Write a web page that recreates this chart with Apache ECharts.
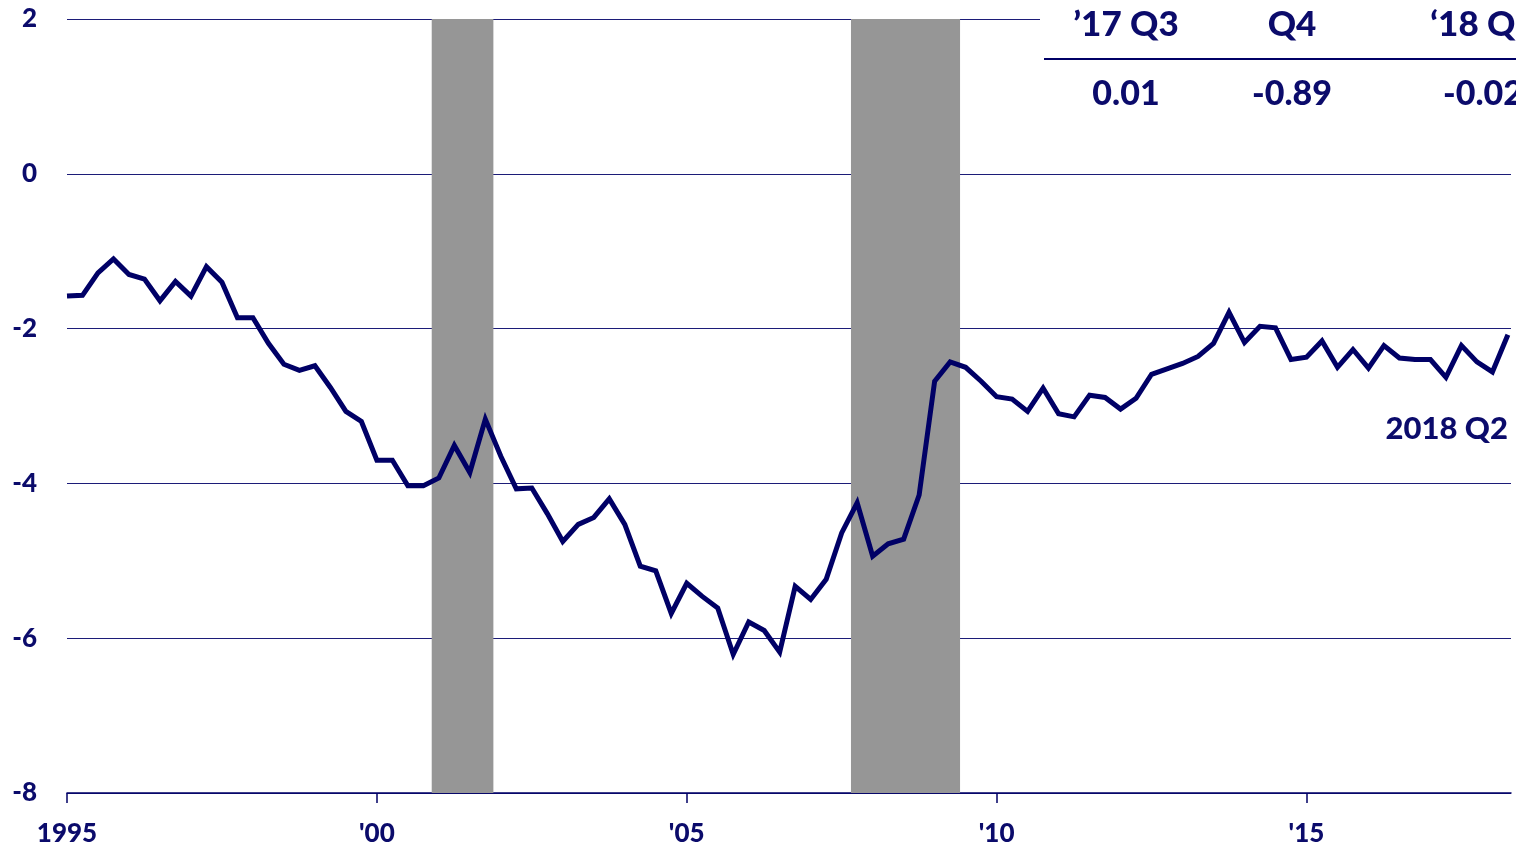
<!DOCTYPE html>
<html>
<head>
<meta charset="utf-8">
<script src="https://cdn.jsdelivr.net/npm/echarts@6/dist/echarts.min.js"></script>
<style>
html,body{margin:0;padding:0;background:#fff;}
#chart{width:1516px;height:851px;}
</style>
</head>
<body>
<div id="chart"></div>
<script>
// Quarterly values, 1995 Q1 .. 2018 Q2
const startYear = 1995;
const values = [
  -1.58, -1.57, -1.28, -1.10, -1.30, -1.36, -1.64, -1.39, -1.58, -1.20,
  -1.40, -1.86, -1.86, -2.19, -2.46, -2.54, -2.48, -2.76, -3.07, -3.20,
  -3.70, -3.70, -4.03, -4.03, -3.93, -3.51, -3.86, -3.17, -3.65, -4.07,
  -4.06, -4.39, -4.75, -4.53, -4.44, -4.20, -4.53, -5.07, -5.13, -5.68,
  -5.29, -5.46, -5.61, -6.21, -5.79, -5.90, -6.18, -5.33, -5.50, -5.24,
  -4.64, -4.25, -4.94, -4.78, -4.72, -4.15, -2.68, -2.43, -2.50, -2.68,
  -2.88, -2.91, -3.07, -2.77, -3.10, -3.14, -2.86, -2.89, -3.04, -2.90,
  -2.59, -2.52, -2.45, -2.36, -2.19, -1.79, -2.18, -1.97, -1.99, -2.40,
  -2.37, -2.16, -2.50, -2.27, -2.51, -2.22, -2.38, -2.40, -2.40, -2.63,
  -2.22, -2.43, -2.56, -2.08
];
// Recession periods (decimal years)
const recessions = [[2000.885, 2001.88], [2007.65, 2009.41]];
const yTicks = [-8, -6, -4, -2, 0, 2];
const xTickYears = [1995, 2000, 2005, 2010, 2015];
const tableHeaders = ['\u201917 Q3', 'Q4', '\u201818 Q1'];
const tableValues = ['0.01', '-0.89', '-0.02'];
const lastLabel = '2018 Q2';

const NAVY = '#000066';
const TEXT = '#0b0b6b';
const FONT = 'Lato, "Open Sans", sans-serif';
const W = '900';

const seriesData = values.map((v, i) => [startYear + i / 4, v]);

const chart = echarts.init(document.getElementById('chart'), null, {renderer: 'canvas'});

const colX = [1126, 1292, 1483];
const graphics = [
  {type: 'rect', z: 10, shape: {x: 1040, y: 0, width: 476, height: 118}, style: {fill: '#fff'}},
  {type: 'line', z: 11, shape: {x1: 1044, y1: 59, x2: 1516, y2: 59}, style: {stroke: NAVY, lineWidth: 2}}
];
tableHeaders.forEach((t, i) => graphics.push({
  type: 'text', z: 11, x: colX[i], y: 25,
  style: {text: t, fill: TEXT, font: W + ' 35px ' + FONT, textAlign: 'center', textVerticalAlign: 'middle'}
}));
tableValues.forEach((t, i) => graphics.push({
  type: 'text', z: 11, x: colX[i], y: 94,
  style: {text: t, fill: TEXT, font: W + ' 34px ' + FONT, textAlign: 'center', textVerticalAlign: 'middle'}
}));
graphics.push({
  type: 'text', z: 11, x: 1508, y: 429,
  style: {text: lastLabel, fill: TEXT, font: W + ' 31px ' + FONT, textAlign: 'right', textVerticalAlign: 'middle'}
});

chart.setOption({
  animation: false,
  backgroundColor: '#fff',
  grid: {left: 67, right: 5, top: 19, bottom: 58, containLabel: false},
  xAxis: {
    type: 'value',
    min: 1995, max: 2018.3, interval: 5,
    axisLine: {show: true, onZero: false, lineStyle: {color: NAVY, width: 1.5}},
    axisTick: {show: true, length: 10, lineStyle: {color: NAVY, width: 1.5}},
    splitLine: {show: false},
    axisLabel: {
      showMaxLabel: false,
      margin: 28,
      color: TEXT, fontFamily: FONT, fontWeight: W, fontSize: 26,
      formatter: v => xTickYears.includes(v) ? (v === 1995 ? '1995' : "'" + String(v).slice(2)) : ''
    }
  },
  yAxis: {
    type: 'value',
    min: yTicks[0], max: yTicks[yTicks.length - 1], interval: 2,
    axisLine: {show: false},
    axisTick: {show: false},
    splitLine: {show: true, lineStyle: {color: '#1c1c78', width: 1}},
    axisLabel: {
      margin: 30,
      color: TEXT, fontFamily: FONT, fontWeight: W, fontSize: 26
    }
  },
  series: [{
    type: 'line',
    data: seriesData,
    symbol: 'none',
    lineStyle: {color: NAVY, width: 5, join: 'miter'},
    z: 5,
    markArea: {
      silent: true,
      itemStyle: {color: '#969696', opacity: 1},
      data: recessions.map(r => [{xAxis: r[0]}, {xAxis: r[1]}])
    }
  }],
  graphic: graphics
});
</script>
</body>
</html>
